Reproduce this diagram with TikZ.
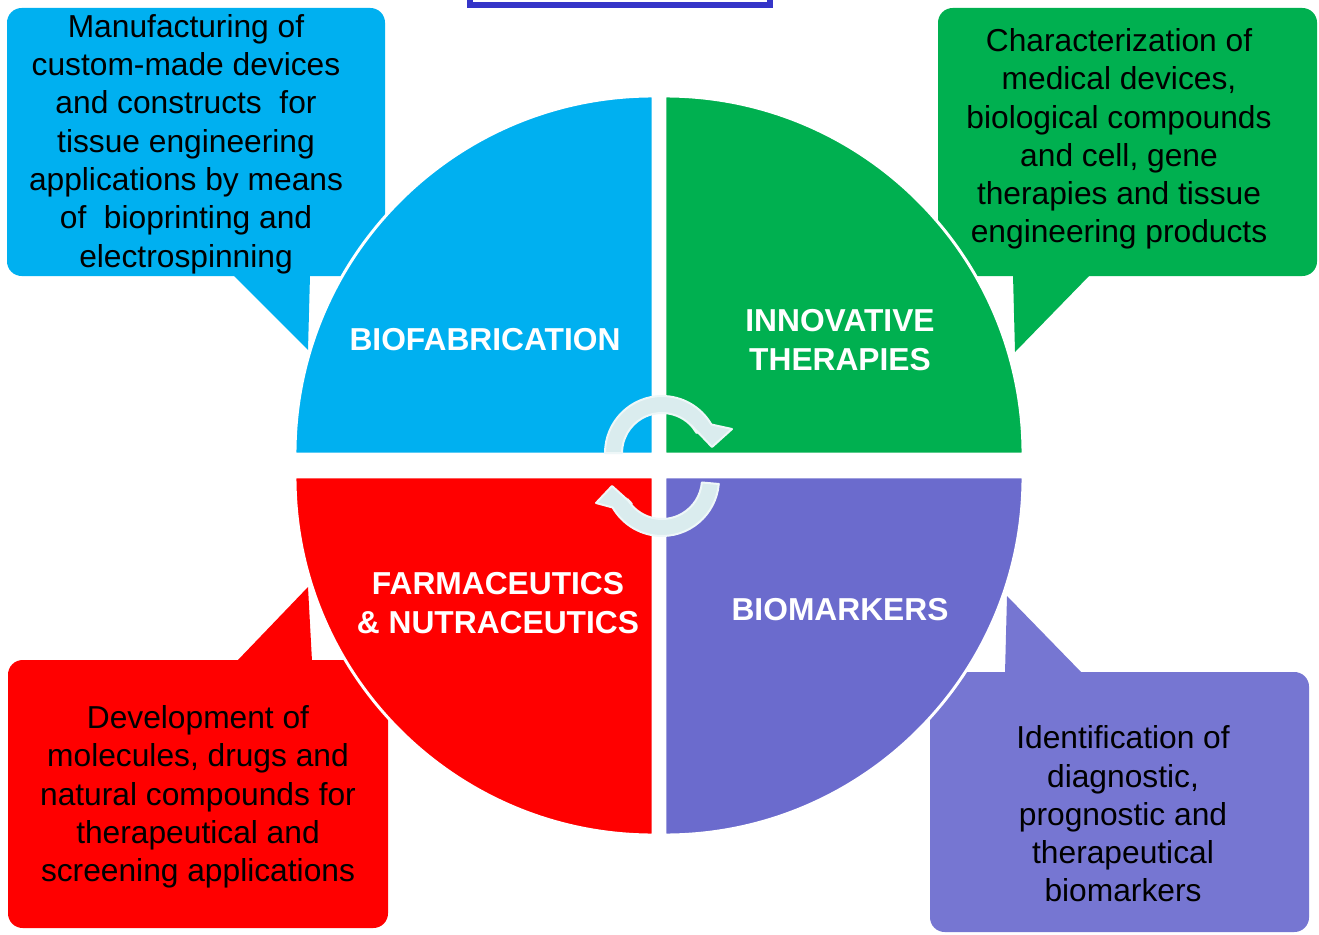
\documentclass[tikz,border=0pt]{standalone}
\usepackage{fontspec}
\setmainfont{Liberation Sans}
\usetikzlibrary{calc}
\definecolor{qblue}{HTML}{00B0F0}
\definecolor{qgreen}{HTML}{00B050}
\definecolor{qred}{HTML}{FF0000}
\definecolor{qpurple}{HTML}{6B6BCD}
\definecolor{cpurple}{HTML}{7676D2}
\definecolor{framecol}{HTML}{3535C8}
\definecolor{arrowfill}{HTML}{DAECEE}
\definecolor{arrowline}{HTML}{EEF7F8}
\tikzset{
  callouttext/.style={align=center, font=\fontsize{23.8}{28.7}\selectfont, text=black, inner sep=0pt},
  qlabel/.style={align=center, font=\bfseries\fontsize{23.8}{29.2}\selectfont, text=white, inner sep=0pt},
  quad/.style={draw=white, line width=2.2pt},
  cbox/.style={rounded corners=11pt},
  cyclearrow/.style={fill=arrowfill, draw=arrowline, line width=1.5pt, line join=round},
}
\begin{document}
\begin{tikzpicture}[x=0.75pt,y=-0.75pt]
\useasboundingbox (0,0) rectangle (1319,934);
\clip (0,0) rectangle (1319,934);
\fill[white] (0,0) rectangle (1319,934);

% top frame (cut off)
\draw[framecol, line width=4.5pt] (470,-30) rectangle (770,5);

% callout boxes with tails
\fill[qblue, cbox] (7,8) rectangle (385,276);
\fill[qblue] (233,275) -- (310,275) -- (308,350) -- cycle;
\fill[qgreen, cbox] (938,8) rectangle (1317,276);
\fill[qgreen] (1013,275) -- (1090,275) -- (1015,352) -- cycle;
\fill[qred, cbox] (8,660) rectangle (388,928);
\fill[qred] (237,661) -- (308,587) -- (312,661) -- cycle;
\fill[cpurple, cbox] (930,672) rectangle (1309,932);
\fill[cpurple] (1005,673) -- (1007,596) -- (1082,673) -- cycle;

% quadrants
\coordinate (cb) at (653,454);
\coordinate (cg) at (665,454);
\coordinate (cp) at (665,477);
\coordinate (cr) at (653,477);
\filldraw[quad, fill=qblue] (cb) -- ($(cb)+(180:358)$) arc[start angle=180, end angle=270, radius=358] -- cycle;
\filldraw[quad, fill=qgreen] (cg) -- ($(cg)+(270:358)$) arc[start angle=270, end angle=360, radius=358] -- cycle;
\filldraw[quad, fill=qpurple] (cp) -- ($(cp)+(0:358)$) arc[start angle=0, end angle=90, radius=358] -- cycle;
\filldraw[quad, fill=qred] (cr) -- ($(cr)+(90:358)$) arc[start angle=90, end angle=180, radius=358] -- cycle;

% cycle arrows
\coordinate (c1) at (662,453);
\coordinate (c2) at (662,479);
\filldraw[cyclearrow] ($(c1)+(180:57)$) arc[start angle=180, end angle=330, radius=57]
  -- ($(c1)+(70,-24)$) -- ($(c1)+(50,-6)$) -- ($(c1)+(29,-28)$)
  -- ($(c1)+(330:40)$) arc[start angle=330, end angle=180, radius=40] -- cycle;
\filldraw[cyclearrow] ($(c2)+(5:57)$) arc[start angle=5, end angle=150, radius=57]
  -- ($(c2)+(-66,24)$) -- ($(c2)+(-50,7)$) -- ($(c2)+(-30,25)$)
  -- ($(c2)+(150:40)$) arc[start angle=150, end angle=5, radius=40] -- cycle;

% quadrant labels
\node[qlabel] (lbio) at (485,340) {BIOFABRICATION};
\node[qlabel] (linn) at (840,340) {INNOVATIVE\\THERAPIES};
\node[qlabel] (lfar) at (498,603) {FARMACEUTICS\\\& NUTRACEUTICS};
\node[qlabel] (lbmk) at (840,610) {BIOMARKERS};

% callout texts
\node[callouttext] (tbio) at (186,144) {Manufacturing of\\custom-made devices\\and constructs\ \ for\\tissue engineering\\applications by means\\of\ \ bioprinting and\\electrospinning};
\node[callouttext] (tinn) at (1119,139) {Characterization of\\medical devices,\\biological compounds\\and cell, gene\\therapies and tissue\\engineering products};
\node[callouttext] (tfar) at (198,797) {Development of\\molecules, drugs and\\natural compounds for\\therapeutical and\\screening applications};
\node[callouttext] (tbmk) at (1123,814) {Identification of\\diagnostic,\\prognostic and\\therapeutical\\biomarkers};
\end{tikzpicture}
\end{document}
